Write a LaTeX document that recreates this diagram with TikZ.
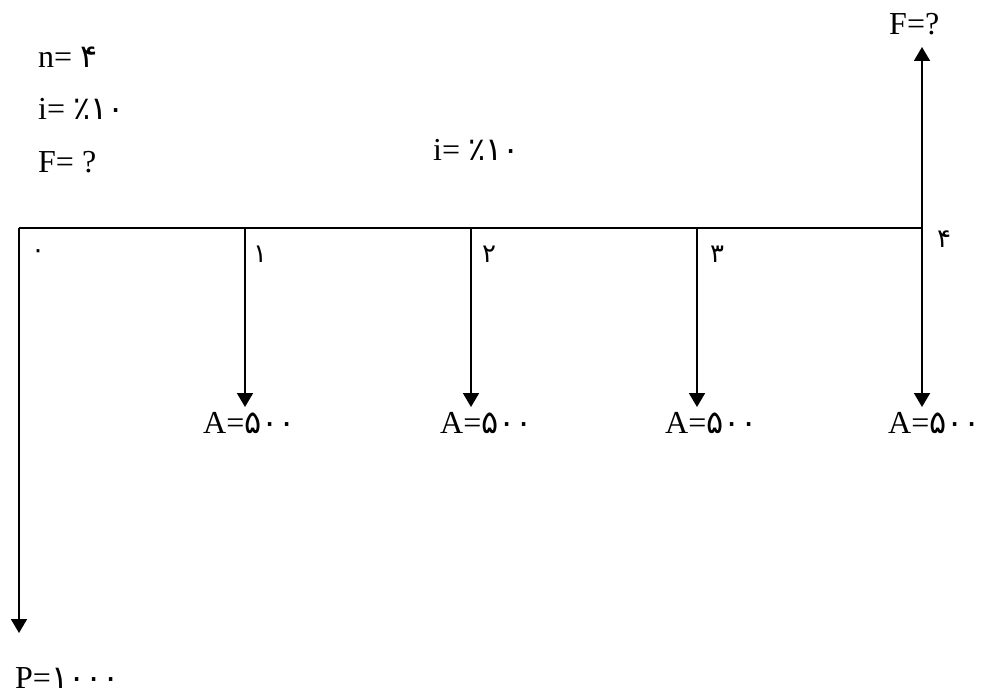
\documentclass[tikz,border=0pt]{standalone}
\usepackage{fontspec}
\setmainfont{Liberation Serif}
\newfontfamily\fa[Script=Arabic]{DejaVu Sans}
\usetikzlibrary{arrows.meta,positioning}
\begin{document}
\begin{tikzpicture}[x=1pt, y=-1pt, font=\fontsize{32}{38}\selectfont,
  line/.style={line width=1.8pt},
  arr/.style={line, -{Triangle[width=16pt,length=14pt]}},
  lbl/.style={anchor=base west, inner sep=0pt},
  num/.style={lbl, font=\fontsize{26}{30}\selectfont\fa}]
\useasboundingbox (0,0) rectangle (981,698);
% data
\node[lbl] (n) at (38,68) {n= {\fa ۴}};
\node[lbl] (i) at (38,120) {i= {\fa ٪۱۰}};
\node[lbl] (f0) at (38,172) {F= ?};
\node[lbl] (rate) at (433,160) {i= {\fa ٪۱۰}};
% time axis
\coordinate (t0) at (19,228);
\coordinate (t1) at (245,228);
\coordinate (t2) at (471,228);
\coordinate (t3) at (697,228);
\coordinate (t4) at (922,228);
\draw[line] (t0) -- (t4);
\node[num] (d0) at (31,258) {۰};
\node[num] (d1) at (253,262) {۱};
\node[num] (d2) at (482,262) {۲};
\node[num] (d3) at (710,262) {۳};
\node[num] (d4) at (937,247) {۴};
% payments
\node[lbl] (a1) at (203,433) {A={\fa ۵۰۰}};
\node[lbl] (a2) at (440,433) {A={\fa ۵۰۰}};
\node[lbl] (a3) at (665,433) {A={\fa ۵۰۰}};
\node[lbl] (a4) at (888,433) {A={\fa ۵۰۰}};
\coordinate (e1) at (245,407);
\coordinate (e2) at (471,407);
\coordinate (e3) at (697,407);
\coordinate (e4) at (922,407);
\foreach \k in {1,...,4} \draw[arr] (t\k) -- (e\k);
% present and future value
\node[lbl] (p) at (15,688) {P={\fa ۱۰۰۰}};
\node[lbl] (f) at (889,35) {F=?};
\coordinate (pend) at (19,633);
\coordinate (fend) at (922,47);
\draw[arr] (t0) -- (pend);
\draw[arr] (t4) -- (fend);
\end{tikzpicture}
\end{document}
